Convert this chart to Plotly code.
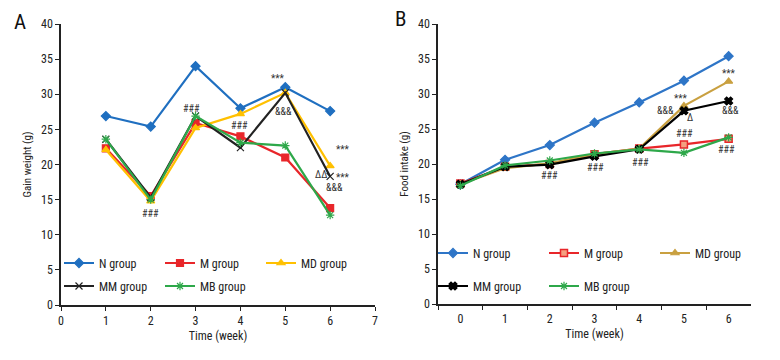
import plotly.graph_objects as go

FONT = "Liberation Sans Narrow, Arial Narrow, Roboto Condensed, Noto Sans Condensed, DejaVu Sans Condensed, Roboto, sans-serif"

# Panel A: gain weight
weeks_a = [1, 2, 3, 4, 5, 6]
a_n = [26.9, 25.4, 34.0, 28.0, 31.0, 27.6]
a_m = [22.3, 15.5, 25.9, 24.0, 21.0, 13.8]
a_md = [22.1, 14.8, 25.2, 27.2, 30.2, 19.8]
a_mm = [23.6, 15.3, 26.9, 22.4, 30.2, 18.3]
a_mb = [23.6, 15.0, 26.9, 23.1, 22.7, 12.8]

# Panel B: food intake
weeks_b = ["0", "1", "2", "3", "4", "5", "6"]
b_n = [17.1, 20.6, 22.7, 25.9, 28.8, 31.9, 35.4]
b_m = [17.2, 19.6, 20.0, 21.4, 22.2, 22.8, 23.6]
b_md = [17.1, 19.4, 20.1, 21.4, 22.2, 28.3, 31.8]
b_mm = [17.1, 19.6, 19.9, 21.1, 22.1, 27.6, 29.0]
b_mb = [16.9, 19.8, 20.5, 21.5, 22.1, 21.6, 23.8]

names = ["N group", "M group", "MD group", "MM group", "MB group"]
colors_a = ["#1f6fc0", "#e8262a", "#ffc000", "#222222", "#2ea84a"]
colors_b = ["#2e75c7", "#e8262a", "#c9a040", "#000000", "#2ea84a"]
symbols_a = ["diamond", "square", "triangle-up", "x-thin-open", "asterisk-open"]
symbols_b = ["diamond", "square", "triangle-up", "x", "asterisk-open"]

# annotation labels (text, x, y)
ann_a_text = ["###", "###", "###", "***", "&&&", "***", "ΔΔ", "***", "&&&"]
ann_a_x = [2.0, 2.9, 3.99, 4.83, 4.96, 6.29, 5.79, 6.29, 6.09]
ann_a_y = [13.0, 28.0, 25.5, 32.2, 27.5, 22.1, 18.6, 18.1, 16.7]

ann_b_text = ["###", "###", "###", "***", "***", "&&&", "Δ", "&&&", "###", "###"]
ann_b_x = [2.0, 3.02, 4.03, 6.0, 4.94, 4.58, 5.14, 6.04, 5.02, 5.95]
ann_b_y = [18.3, 19.5, 20.2, 32.9, 29.4, 27.6, 26.6, 27.6, 24.3, 22.0]

W, H = 780, 360
OFF = 8  # page body margin


def px(x):
    return (x - OFF) / W


def py(y):
    return 1 - (y - OFF) / H


fig = go.Figure()

series_a = [a_n, a_m, a_md, a_mm, a_mb]
series_b = [b_n, b_m, b_md, b_mm, b_mb]
legend_rows_a = ["legend", "legend", "legend", "legend2", "legend2"]
legend_rows_b = ["legend3", "legend3", "legend3", "legend4", "legend4"]

for i, ys in enumerate(series_a):
    fig.add_trace(go.Scatter(
        x=weeks_a, y=ys, name=names[i], mode="lines+markers",
        line=dict(color=colors_a[i], width=2.2),
        marker=dict(symbol=symbols_a[i], size=7, color=colors_a[i],
                    line=dict(color=colors_a[i], width=1.2)),
        xaxis="x", yaxis="y", legend=legend_rows_a[i]))

for i, ys in enumerate(series_b):
    mk = dict(symbol=symbols_b[i], size=7, color=colors_b[i],
              line=dict(color=colors_b[i], width=1.2))
    if i == 1:
        mk = dict(symbol="square", size=7, color="#f4a080",
                  line=dict(color=colors_b[i], width=1.5))
    fig.add_trace(go.Scatter(
        x=weeks_b, y=ys, name=names[i], mode="lines+markers",
        line=dict(color=colors_b[i], width=2.2),
        marker=mk, xaxis="x2", yaxis="y2", legend=legend_rows_b[i]))

annotations = []
for t, x, y in zip(ann_a_text, ann_a_x, ann_a_y):
    annotations.append(dict(text=t, x=x, y=y, xref="x", yref="y", showarrow=False,
                            font=dict(family=FONT, size=10, color="#333333")))
for t, x, y in zip(ann_b_text, ann_b_x, ann_b_y):
    annotations.append(dict(text=t, x=x, y=y, xref="x2", yref="y2", showarrow=False,
                            font=dict(family=FONT, size=10, color="#333333")))
annotations.append(dict(text="A", x=px(20), y=py(22), xref="paper", yref="paper",
                        xanchor="center", yanchor="middle",
                        showarrow=False, font=dict(family=FONT, size=21, color="#111")))
annotations.append(dict(text="B", x=px(400), y=py(19), xref="paper", yref="paper",
                        xanchor="center", yanchor="middle",
                        showarrow=False, font=dict(family=FONT, size=21, color="#111")))

axis_common = dict(showgrid=False, zeroline=False, showline=True, linecolor="#222",
                   linewidth=1.5, ticks="outside", ticklen=4, tickwidth=1.2,
                   tickcolor="#222", tickfont=dict(family=FONT, size=12, color="#222"))

legfont = dict(family=FONT, size=12, color="#222")
leg_common = dict(orientation="h", font=legfont, bgcolor="rgba(0,0,0,0)",
                  entrywidth=56, entrywidthmode="pixels", xanchor="left",
                  yanchor="middle", itemwidth=30, tracegroupgap=0)

fig.update_layout(
    width=W, height=H,
    margin=dict(l=0, r=0, t=0, b=0, autoexpand=False),
    paper_bgcolor="white", plot_bgcolor="white",
    showlegend=True,
    xaxis=dict(domain=[px(61), px(375)], range=[0, 7], dtick=1, anchor="y",
               title=dict(text="Time (week)", font=dict(family=FONT, size=12, color="#222"),
                          standoff=4),
               **axis_common),
    yaxis=dict(domain=[py(305), py(24)], range=[0, 40], dtick=5, anchor="x",
               title=dict(text="Gain weight (g)", font=dict(family=FONT, size=11, color="#222"),
                          standoff=7),
               **axis_common),
    xaxis2=dict(domain=[px(438), px(751)], type="category", range=[-0.5, 6.5],
                tickson="boundaries", anchor="y2", ticklabelstandoff=3,
                title=dict(text="Time (week)", font=dict(family=FONT, size=12, color="#222"),
                           standoff=4),
                **axis_common),
    yaxis2=dict(domain=[py(304), py(24)], range=[0, 40], dtick=5, anchor="x2",
                title=dict(text="Food intake (g)", font=dict(family=FONT, size=11, color="#222"),
                           standoff=7),
                **axis_common),
    legend=dict(x=px(59), y=py(263), **leg_common),
    legend2=dict(x=px(59), y=py(286), **leg_common),
    legend3=dict(x=px(433), y=py(253), **{**leg_common, "entrywidth": 66}),
    legend4=dict(x=px(433), y=py(286), **{**leg_common, "entrywidth": 66}),
    annotations=annotations,
)

fig.write_html("out.html")
